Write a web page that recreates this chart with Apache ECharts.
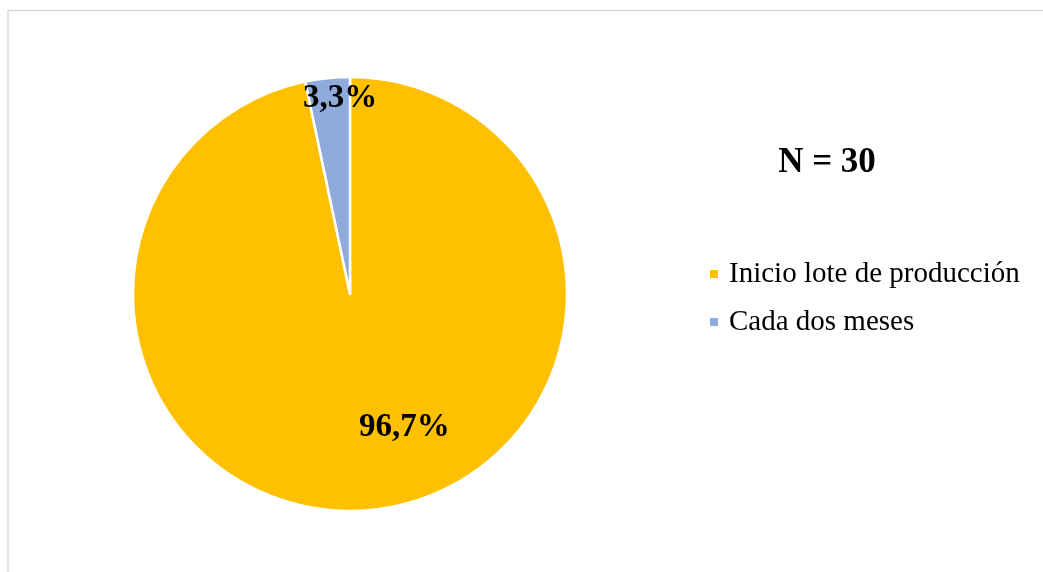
<!DOCTYPE html>
<html>
<head>
<meta charset="utf-8">
<style>
  html, body { margin: 0; padding: 0; background: #ffffff; }
  #chart { width: 1043px; height: 572px; }
</style>
<script src="https://cdn.jsdelivr.net/npm/echarts@6/dist/echarts.min.js"></script>
</head>
<body>
<div id="chart"></div>
<script>
// Frequency of the inspection (share of respondents)
const categories = ['Inicio lote de producción', 'Cada dos meses'];
const values = [96.7, 3.3];
const sliceColors = ['#FFC000', '#8FAADC'];
const sampleLabel = 'N = 30';

// Where each percentage label sits, relative to the pie centre (fraction of radius)
const labelOffsets = [[0.25, 0.615], [-0.045, -0.9]];

const cx = 350, cy = 294, radius = 217;

const chart = echarts.init(document.getElementById('chart'), null, { renderer: 'canvas' });

chart.setOption({
  backgroundColor: '#ffffff',
  animation: false,
  legend: {
    orient: 'vertical',
    left: 708,
    top: 259,
    padding: 0,
    itemWidth: 10,
    itemHeight: 10,
    itemGap: 18,
    icon: 'rect',
    textStyle: {
      fontFamily: 'Liberation Serif',
      fontSize: 29,
      lineHeight: 30,
      color: '#000000',
      padding: [0, 0, 0, 5]
    },
    data: categories
  },
  graphic: [
    {
      type: 'rect',
      silent: true,
      shape: { x: 8, y: 10.5, width: 1200, height: 800 },
      style: { fill: 'none', stroke: '#d9d9d9', lineWidth: 1.5 }
    },
    {
      type: 'text',
      x: 827,
      y: 163,
      style: {
        text: sampleLabel,
        fontFamily: 'Liberation Serif',
        fontWeight: 'bold',
        fontSize: 35,
        fill: '#000000',
        textAlign: 'center',
        textVerticalAlign: 'middle'
      }
    }
  ],
  series: [
    {
      type: 'pie',
      center: [cx, cy],
      radius: radius,
      startAngle: 90,
      clockwise: true,
      avoidLabelOverlap: false,
      itemStyle: { borderColor: '#ffffff', borderWidth: 2.5 },
      label: {
        show: true,
        position: 'inside',
        formatter: (p) => p.value.toFixed(1).replace('.', ',') + '%',
        fontFamily: 'Liberation Serif',
        fontWeight: 'bold',
        fontSize: 33,
        color: '#000000'
      },
      labelLine: { show: false },
      labelLayout: (params) => {
        const o = labelOffsets[params.dataIndex];
        return { x: cx + o[0] * radius, y: cy + o[1] * radius, align: 'center', verticalAlign: 'middle' };
      },
      emphasis: { disabled: true },
      data: categories.map((name, i) => ({
        name: name,
        value: values[i],
        itemStyle: { color: sliceColors[i] }
      }))
    }
  ]
});
</script>
</body>
</html>
